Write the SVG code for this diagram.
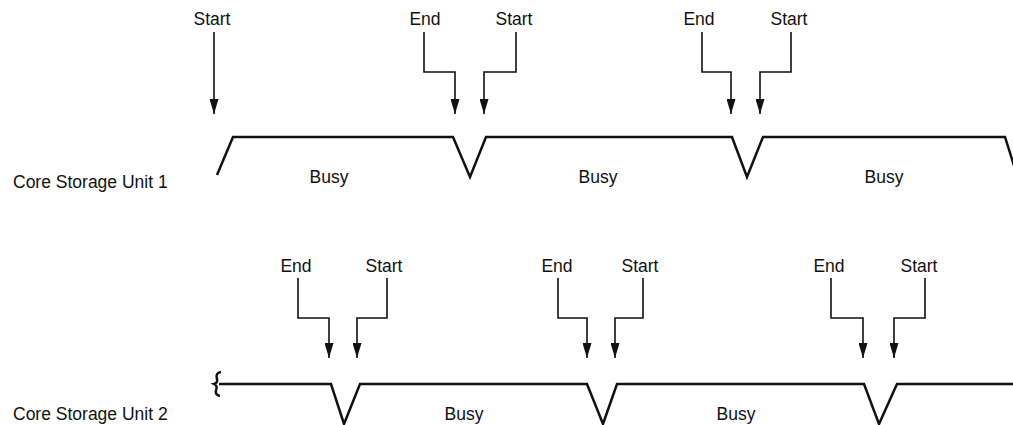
<svg xmlns="http://www.w3.org/2000/svg" width="1013" height="425" viewBox="0 0 1013 425">
<style>
text{font-family:"Liberation Sans",Arial,sans-serif;font-size:17.5px;fill:#111}
.c{text-anchor:middle}
.w{fill:none;stroke:#111;stroke-width:2.5;stroke-linejoin:miter}
.a{fill:none;stroke:#111;stroke-width:1.6;marker-end:url(#ah)}
</style>
<defs>
<marker id="ah" viewBox="0 0 15 9" refX="15" refY="4.5" markerWidth="15" markerHeight="9" markerUnits="userSpaceOnUse" orient="auto">
<path d="M0,0 L15,4.5 L0,9 z" fill="#111"/>
</marker>
</defs>
<rect width="1013" height="425" fill="#fff"/>
<g id="unit1">
<text x="13" y="188">Core Storage Unit 1</text>
<path class="w" d="M217,175 L233,137 H453 L470,177 L486,137 H732 L747,177 L763,137 H1005 L1016,172"/>
<text class="c" x="329" y="183">Busy</text>
<text class="c" x="598" y="183">Busy</text>
<text class="c" x="884" y="183">Busy</text>
</g>
<g id="unit2">
<text x="13" y="420">Core Storage Unit 2</text>
<path class="w" d="M219,384 H331 L344,424 L360,384 H587 L603,424 L617,384 H864 L879,424 L897,384 H1013"/>
<path class="w" stroke-width="2" d="M221,372 Q215,373 217,379 Q218,383 214,384 Q218,386 216,390 Q215,395 220,396"/>
<text class="c" x="464" y="420">Busy</text>
<text class="c" x="736" y="420">Busy</text>
</g>
<g id="labels">
<text class="c" x="212" y="25">Start</text>
<text class="c" x="425" y="25">End</text>
<text class="c" x="514" y="25">Start</text>
<text class="c" x="699" y="25">End</text>
<text class="c" x="789" y="25">Start</text>
<text class="c" x="296" y="272">End</text>
<text class="c" x="384" y="272">Start</text>
<text class="c" x="557" y="272">End</text>
<text class="c" x="640" y="272">Start</text>
<text class="c" x="829" y="272">End</text>
<text class="c" x="919" y="272">Start</text>
</g>
<g id="connectors">
<path class="a" d="M214,32 V114"/>
<path class="a" d="M424,32 V72 H455 V114"/>
<path class="a" d="M516,32 V72 H484 V114"/>
<path class="a" d="M702,32 V72 H731 V114"/>
<path class="a" d="M791,32 V72 H760 V114"/>
<path class="a" d="M298,278 V318 H329 V358"/>
<path class="a" d="M387,278 V318 H357 V358"/>
<path class="a" d="M558,278 V318 H587 V358"/>
<path class="a" d="M643,278 V318 H615 V358"/>
<path class="a" d="M831,278 V318 H863 V358"/>
<path class="a" d="M925,278 V318 H894 V358"/>
</g>
</svg>
